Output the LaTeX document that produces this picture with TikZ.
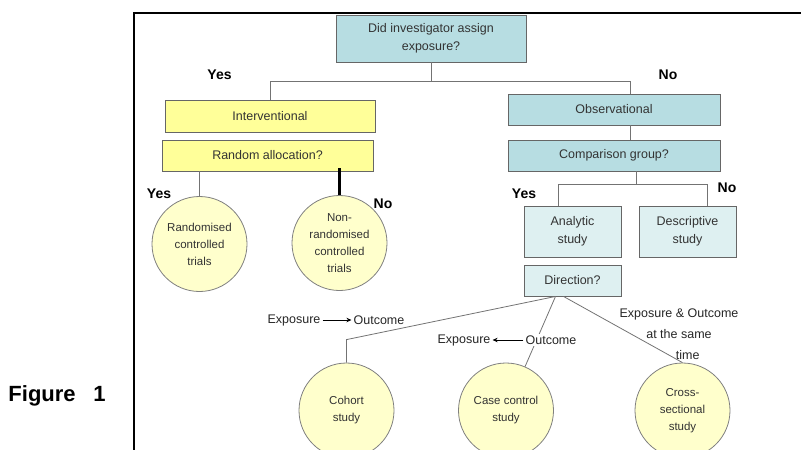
\documentclass[tikz,border=0pt]{standalone}
\usepackage{fontspec}
\setmainfont{Liberation Sans}
\usepackage{xcolor}
\usetikzlibrary{positioning, arrows.meta}

\definecolor{tealdark}{HTML}{B7DDE2}
\definecolor{teallight}{HTML}{DEF0F1}
\definecolor{yelbox}{HTML}{FFFF99}
\definecolor{yelring}{HTML}{FFFFCC}

\begin{document}
\begin{tikzpicture}[
  x=1pt, y=-1pt,
  font=\fontsize{12.5}{18}\selectfont,
  tealbox/.style={draw=black!60, line width=0.9pt, rectangle, inner sep=2pt,
    align=center, fill=tealdark, text=black!80},
  palebox/.style={tealbox, fill=teallight},
  yelstage/.style={tealbox, fill=yelbox},
  design/.style={draw=black!50, line width=0.8pt, circle, minimum size=95pt,
    inner sep=0pt, align=center, fill=yelring, text=black!80,
    font=\fontsize{11.5}{17}\selectfont},
  answer/.style={font=\fontsize{14}{16}\selectfont\bfseries, inner sep=1pt},
  note/.style={inner sep=2pt, text=black!85, align=center},
  link/.style={draw=black!55, line width=0.8pt},
  arr/.style={-{Stealth[length=5pt, width=4.5pt]}, line width=1pt, black},
]
  \useasboundingbox (0,0) rectangle (801,450);

  % Frame and caption
  \draw[line width=2.4pt, black] (134,450) -- (134,13) -- (801,13);
  \node[font=\fontsize{22}{26}\selectfont\bfseries, inner sep=0pt]
    (figlbl) at (57,396) {Figure\hspace{0.8em}1};

  % Row 1: question on assignment
  \node[tealbox, minimum width=190pt, minimum height=47pt] (assign) at (431,38.5)
    {Did investigator assign\\exposure?};

  % Row 2: the two branches
  \node[yelstage, minimum width=210pt, minimum height=32pt] (interv) at (270,116) {Interventional};
  \node[yelstage, minimum width=211pt, minimum height=31pt] (randq) at (267.5,155.5) {Random allocation?};
  \node[tealbox, minimum width=212pt, minimum height=31pt] (obs) at (614,109.5) {Observational};
  \node[tealbox, minimum width=212pt, minimum height=31pt] (compq) at (614,155.5) {Comparison group?};

  % Row 3: trials and study types
  \node[design] (rct) at (199.5,244) {Randomised\\controlled\\trials};
  \node[design] (nrct) at (339.5,243) {Non-\\randomised\\controlled\\trials};
  \node[palebox, minimum width=97pt, minimum height=51pt] (analytic) at (572.5,231.5) {Analytic\\study};
  \node[palebox, minimum width=97pt, minimum height=51pt] (descr) at (687.5,231.5) {Descriptive\\study};
  \node[palebox, minimum width=97pt, minimum height=31pt] (dirq) at (572.5,280.5) {Direction?};

  % Row 4: analytic designs
  \node[design] (cohort) at (346.5,410.5) {Cohort\\study};
  \node[design] (casectl) at (506,410.5) {Case control\\study};
  \node[design] (cross) at (682.5,410.5) {Cross-\\sectional\\study};

  % Connectors
  \coordinate (fork) at (431,81);
  \draw[link] (assign.south) -- (fork);
  \draw[link] (fork) -| (interv.north);
  \draw[link] (fork) -| ([xshift=16pt]obs.north);
  \draw[link] ([xshift=16pt]obs.south) -- ([xshift=16pt]compq.north);
  \coordinate (fork2) at (636,184);
  \draw[link] ([xshift=22pt]compq.south) -- (fork2);
  \draw[link] (fork2) -| ([xshift=-14pt]analytic.north);
  \draw[link] (fork2) -| ([xshift=20pt]descr.north);
  \draw[link] (rct.north) -- (rct.north |- randq.south);
  \draw[line width=2.2pt, black] (nrct.north) -- ([yshift=3pt]nrct.north |- randq.south);
  \coordinate (dirfoot) at ([xshift=-17pt]dirq.south);
  \draw[link] (dirfoot) -- ([yshift=23pt]cohort.north) -- (cohort.north);
  \draw[link] (dirfoot) -- (casectl);
  \draw[link] ([xshift=-9pt]dirq.south) -- (cross.north);

  % Yes / No answers
  \node[answer] (yesA) at (219.5,75) {Yes};
  \node[answer] (noA) at (668,75) {No};
  \node[answer] (yesB) at (159,194) {Yes};
  \node[answer] (noB) at (383,204) {No};
  \node[answer] (yesC) at (524,194) {Yes};
  \node[answer] (noC) at (727,188) {No};

  % Direction labels
  \node[note] (expA) at (294,320) {Exposure};
  \node[note] (outA) at (379,320) {Outcome};
  \draw[arr] (expA) -- (outA);
  \node[note, fill=white] (expB) at (464,340) {Exposure};
  \node[note, fill=white] (outB) at (551,340) {Outcome};
  \draw[arr] (outB) -- (expB);
  \node[note, font=\fontsize{12.5}{21}\selectfont] (same) at (679,334)
    {Exposure \& Outcome\\at the same\\\hspace*{1.4em}time};
\end{tikzpicture}
\end{document}
